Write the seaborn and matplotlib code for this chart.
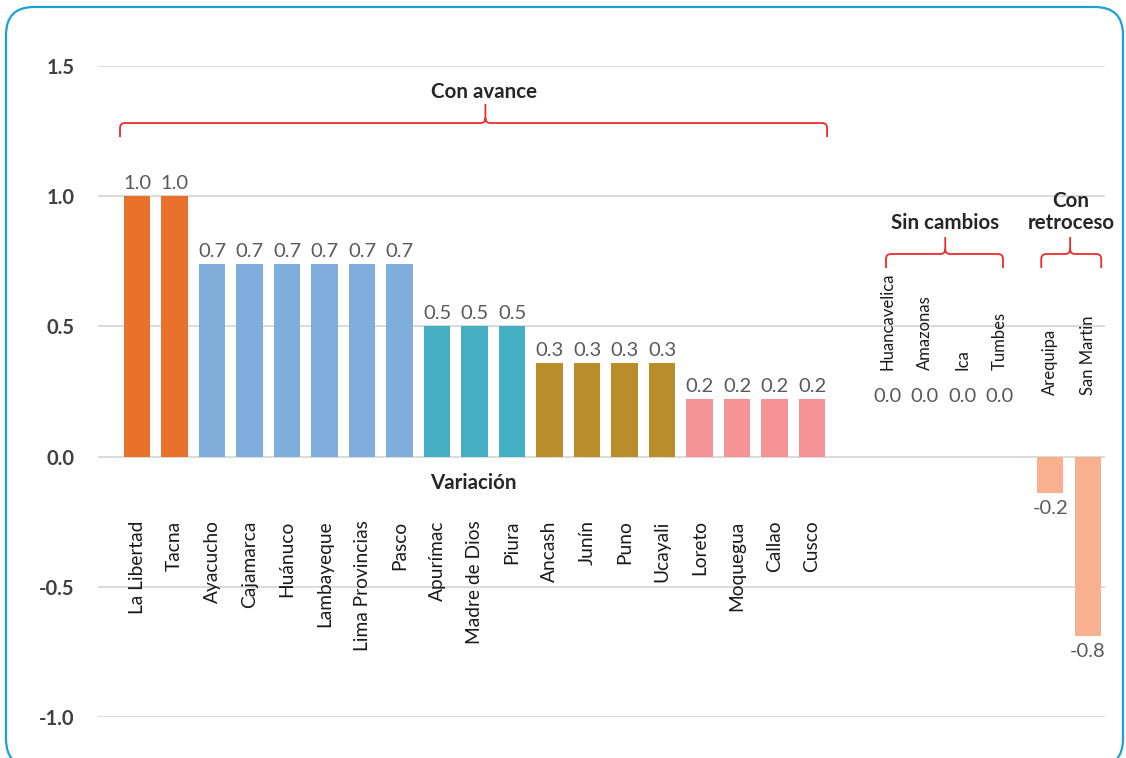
import numpy as np
import pandas as pd
import seaborn as sns
import matplotlib.pyplot as plt
from matplotlib.path import Path
from matplotlib.patches import PathPatch, FancyBboxPatch
from matplotlib.transforms import Affine2D

# data
regiones = ["La Libertad", "Tacna", "Ayacucho", "Cajamarca", "Huánuco", "Lambayeque",
            "Lima Provincias", "Pasco", "Apurímac", "Madre de Dios", "Piura", "Ancash",
            "Junín", "Puno", "Ucayali", "Loreto", "Moquegua", "Callao", "Cusco",
            "Huancavelica", "Amazonas", "Ica", "Tumbes", "Arequipa", "San Martin"]
variacion = [1.0, 1.0, 0.74, 0.74, 0.74, 0.74, 0.74, 0.74, 0.50, 0.50, 0.50,
             0.36, 0.36, 0.36, 0.36, 0.22, 0.22, 0.22, 0.22,
             0.0, 0.0, 0.0, 0.0, -0.14, -0.69]
etiquetas = ["1.0", "1.0", "0.7", "0.7", "0.7", "0.7", "0.7", "0.7", "0.5", "0.5", "0.5",
             "0.3", "0.3", "0.3", "0.3", "0.2", "0.2", "0.2", "0.2",
             "0.0", "0.0", "0.0", "0.0", "-0.2", "-0.8"]
grupos = ["Con avance"] * 19 + ["Sin cambios"] * 4 + ["Con retroceso"] * 2

# styles / layout
palette = {"1.0": "#E8722A", "0.7": "#7FAEDD", "0.5": "#43AEC4", "0.3": "#B98D2A",
           "0.2": "#F69396", "0.0": "#FFFFFF", "-0.2": "#F8B08E", "-0.8": "#F8B08E"}
group_shift = {"Con avance": 0.0, "Sin cambios": 1.0, "Con retroceso": 1.35}
# (y, vertical alignment, font size) of the region names per group
name_style = {"Con avance": (-0.245, "top", 13.8), "Sin cambios": (0.333, "bottom", 12),
              "Con retroceso": (0.237, "bottom", 12)}

df = pd.DataFrame({"region": regiones, "variacion": variacion,
                   "etiqueta": etiquetas, "grupo": grupos})
df["pos"] = np.arange(len(df)) + df["grupo"].map(group_shift)

sns.set_theme(style="white")
plt.rcParams['font.family'] = ['Lato', 'DejaVu Sans']

W, H = 1126, 758
fig = plt.figure(figsize=(W / 100, H / 100), dpi=100)
ax = fig.add_axes([98 / W, 1 - 717 / H, 1007 / W, 651 / H])

sns.barplot(data=df, x="pos", y="variacion", hue="etiqueta", palette=palette,
            native_scale=True, dodge=False, width=0.7, saturation=1, linewidth=0,
            legend=False, ax=ax)

ax.set_xlim(-1.04, 25.81)
ax.set_ylim(-1.0, 1.5)
ax.set_xticks([])
ax.set_yticks([-1.0, -0.5, 0.0, 0.5, 1.0, 1.5])
ax.set_yticklabels([f"{t:.1f}" for t in [-1.0, -0.5, 0.0, 0.5, 1.0, 1.5]],
                   fontweight="bold", color="#404040", fontsize=14.5)
ax.tick_params(axis="y", length=0, pad=17)
ax.yaxis.grid(True, color="#D4D4D4", lw=1.2)
ax.set_axisbelow(True)
ax.set_xlabel("")
ax.set_ylabel("")
for s in ax.spines.values():
    s.set_visible(False)

# value labels and region names
for _, r in df.iterrows():
    v = r["variacion"]
    if v > 0:
        off, va = 3, "bottom"
    elif v == 0:
        off, va = 37, "bottom"
    else:
        off, va = -5, "top"
    ax.annotate(r["etiqueta"], (r["pos"], v), xytext=(0, off), textcoords="offset points",
                ha="center", va=va, fontsize=14.5, color="#595959")
    ny, nva, nfs = name_style[r["grupo"]]
    ax.text(r["pos"], ny, r["region"], rotation=90, ha="center", va=nva,
            fontsize=nfs, color="#1A1A1A", clip_on=False)

ax.text(8.96, -0.101, "Variación", ha="center", va="center", fontsize=14.8,
        fontweight="bold", color="#262626")


def brace(x0, x1, xm, yb, yh, yt, rx=0.13, ry=0.02):
    verts = [(x0, yb), (x0, yh - ry), (x0, yh), (x0 + rx, yh), (xm - rx, yh),
             (xm, yh), (xm, yh + ry), (xm, yt),
             (xm, yh + ry), (xm, yh), (xm + rx, yh), (x1 - rx, yh),
             (x1, yh), (x1, yh - ry), (x1, yb)]
    codes = [Path.MOVETO, Path.LINETO, Path.CURVE3, Path.CURVE3, Path.LINETO,
             Path.CURVE3, Path.CURVE3, Path.LINETO,
             Path.MOVETO, Path.CURVE3, Path.CURVE3, Path.LINETO,
             Path.CURVE3, Path.CURVE3, Path.LINETO]
    ax.add_patch(PathPatch(Path(verts, codes), fill=False, ec="#EE2B2B", lw=1.3,
                           clip_on=False))


brace(-0.453, 18.4, 9.29, 1.227, 1.281, 1.354)
brace(19.97, 23.09, 21.55, 0.724, 0.778, 0.843)
brace(24.11, 25.71, 24.88, 0.724, 0.778, 0.843)

title_kw = dict(ha="center", va="center", fontsize=14.8, fontweight="bold", color="#262626")
ax.text(9.25, 1.40, "Con avance", **title_kw)
ax.text(21.55, 0.897, "Sin cambios", **title_kw)
ax.text(24.9, 0.939, "Con\nretroceso", linespacing=1.1, **title_kw)

# rounded frame around the chart, in pixels (bottom edge falls off the canvas)
frame = FancyBboxPatch((6, H - 767), 1117, 760, boxstyle="round,pad=0,rounding_size=28",
                       fill=False, ec="#1B9ED9", lw=1.6, transform=Affine2D())
fig.patches.append(frame)

fig.savefig("out.png", dpi=100)
